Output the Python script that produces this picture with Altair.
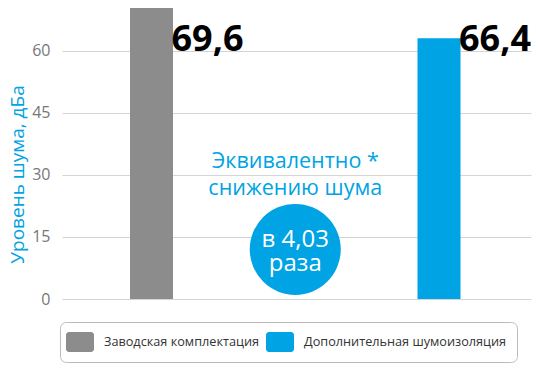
import altair as alt
import pandas as pd

categories = ["Заводская комплектация", "Дополнительная шумоизоляция"]
values = [70.9, 63.1]
value_labels = ["69,6", "66,4"]
colors = ["#8c8c8c", "#00a3e4"]
y_ticks = [0, 15, 30, 45, 60]
note_text = "Эквивалентно *\nснижению шума"
circle_text = "в 4,03\nраза"
y_title = "Уровень шума, дБа"

df = pd.DataFrame({
    "cat": categories,
    "val": values,
    "lab": value_labels,
    "idx": list(range(1, len(categories) + 1)),
})

FONT = "Open Sans"
BLUE = "#00a3e4"

xscale = alt.Scale(domain=[0.6887, 2.32], nice=False, zero=False, padding=0)
yscale = alt.Scale(domain=[0, 70.4], nice=False, padding=0)

sym = ("M-1.1,-1 H1.1 A0.3,0.3 0 0 1 1.4,-0.7 V0.7 A0.3,0.3 0 0 1 1.1,1 "
       "H-1.1 A0.3,0.3 0 0 1 -1.4,0.7 V-0.7 A0.3,0.3 0 0 1 -1.1,-1 Z")

base = alt.Chart(df)

bars = base.mark_bar(size=43, clip=True).encode(
    x=alt.X("idx:Q", scale=xscale, axis=None),
    y=alt.Y("val:Q", scale=yscale,
            axis=alt.Axis(values=y_ticks, title=y_title, grid=True, domain=False,
                          ticks=False, labelPadding=12, labelFontSize=16,
                          labelColor="#777777", labelFont=FONT,
                          titleFont=FONT, titleFontSize=19, titleFontWeight="normal",
                          titleColor=BLUE, titleX=-35, titleY=166,
                          gridColor="#d4d4d4")),
    color=alt.Color("cat:N", scale=alt.Scale(domain=categories, range=colors),
                    legend=alt.Legend(title=None, orient="none", legendX=-2, legendY=314,
                                      direction="horizontal", symbolType=sym,
                                      symbolSize=400, symbolStrokeWidth=0,
                                      labelFont=FONT, labelFontSize=12.7,
                                      labelColor="#333333", labelOffset=14,
                                      columnPadding=6, padding=10,
                                      strokeColor="#bbbbbb", fillColor="white",
                                      cornerRadius=6, labelLimit=400)),
)

labels = base.mark_text(align="left", baseline="alphabetic", dx=20, font=FONT,
                        fontSize=36, fontWeight="bold", color="black").encode(
    x=alt.X("idx:Q", scale=xscale),
    y=alt.datum(60),
    text="lab:N",
)

note = alt.Chart().mark_text(align="center", baseline="alphabetic", font=FONT,
                             fontSize=21.5, color=BLUE, lineBreak="\n",
                             lineHeight=27).encode(
    x=alt.datum(1.5),
    y=alt.datum(31.6),
    text=alt.datum(note_text),
)

circle = alt.Chart().mark_point(shape="circle", filled=True, size=8281,
                                color=BLUE, opacity=1).encode(
    x=alt.datum(1.5),
    y=alt.datum(12),
)

ctext = alt.Chart().mark_text(align="center", baseline="alphabetic", font=FONT,
                              fontSize=24, color="white", lineBreak="\n",
                              lineHeight=24).encode(
    x=alt.datum(1.5),
    y=alt.datum(12.65),
    text=alt.datum(circle_text),
)

chart = alt.layer(bars, labels, note, circle, ctext).properties(
    width=469, height=291,
    autosize=alt.AutoSizeParams(type="none"),
    padding={"left": 54, "top": 0, "right": 1, "bottom": 73},
).configure_view(stroke=None)

chart.save("out.html", embed_options={"renderer": "svg", "actions": False})
